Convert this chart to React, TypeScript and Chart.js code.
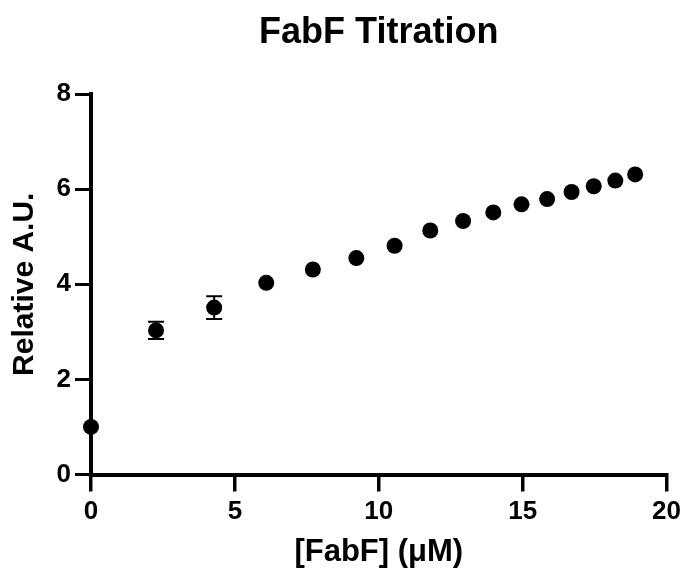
import React, { useEffect, useRef } from "react";
import { Chart, registerables } from "chart.js";

Chart.register(...registerables);

const titleText = "FabF Titration";
const xTitle = "[FabF] (\u03BCM)";
const yTitle = "Relative A.U.";

const concentrations = [0, 2.26, 4.28, 6.09, 7.71, 9.22, 10.55, 11.79, 12.93, 13.98, 14.96, 15.85, 16.7, 17.47, 18.22, 18.91];
const relativeAU = [1.0, 3.03, 3.51, 4.03, 4.31, 4.55, 4.81, 5.13, 5.33, 5.51, 5.68, 5.79, 5.94, 6.06, 6.18, 6.31];
const errors = [0, 0.18, 0.24, 0, 0, 0, 0, 0, 0, 0, 0, 0, 0, 0, 0, 0];

const xTicks = [0, 5, 10, 15, 20];
const yTicks = [0, 2, 4, 6, 8];

const FONT = "'Liberation Sans', Arial, Helvetica, sans-serif";

const errorBarPlugin = {
  id: "errorBars",
  beforeDatasetsDraw(chart: any) {
    const { ctx, scales } = chart;
    const xs = scales.x;
    const ys = scales.y;
    ctx.save();
    ctx.strokeStyle = "#000";
    ctx.lineWidth = 2;
    concentrations.forEach((xv, i) => {
      const e = errors[i];
      if (!e) return;
      const px = xs.getPixelForValue(xv);
      const top = ys.getPixelForValue(relativeAU[i] + e);
      const bot = ys.getPixelForValue(relativeAU[i] - e);
      ctx.beginPath();
      ctx.moveTo(px, top);
      ctx.lineTo(px, bot);
      ctx.moveTo(px - 8, top);
      ctx.lineTo(px + 8, top);
      ctx.moveTo(px - 8, bot);
      ctx.lineTo(px + 8, bot);
      ctx.stroke();
    });
    ctx.restore();
  },
};

const centeredTitlePlugin = {
  id: "centeredTitle",
  afterDraw(chart: any) {
    const { ctx, chartArea } = chart;
    ctx.save();
    ctx.fillStyle = "#000";
    ctx.font = `bold 36px ${FONT}`;
    ctx.textAlign = "center";
    ctx.textBaseline = "alphabetic";
    ctx.fillText(titleText, (chartArea.left + chartArea.right) / 2, 42.5);
    ctx.restore();
  },
};

export default function App() {
  const ref = useRef<HTMLCanvasElement | null>(null);

  useEffect(() => {
    if (!ref.current) return;
    const chart = new Chart(ref.current, {
      type: "scatter",
      data: {
        datasets: [
          {
            label: yTitle,
            data: concentrations.map((x, i) => ({ x, y: relativeAU[i] })),
            backgroundColor: "#000",
            borderColor: "#000",
            borderWidth: 0,
            pointRadius: 8,
            pointHoverRadius: 8,
            clip: false as any,
          },
        ],
      },
      options: {
        animation: false,
        responsive: false,
        devicePixelRatio: 1,
        events: [],
        layout: { padding: { left: 0, right: 19, top: 94, bottom: 0 } },
        plugins: {
          legend: { display: false },
          tooltip: { enabled: false },
          title: { display: false },
        },
        scales: {
          x: {
            type: "linear",
            min: xTicks[0],
            max: xTicks[xTicks.length - 1],
            afterBuildTicks: (s: any) => {
              s.ticks = xTicks.map((v) => ({ value: v }));
            },
            afterFit: (s: any) => {
              s.height = 106.5;
            },
            border: { display: true, color: "#000", width: 4 },
            grid: {
              drawOnChartArea: false,
              drawTicks: true,
              tickLength: 17,
              tickWidth: 3.5,
              lineWidth: 3.5,
              tickColor: "#000",
              color: "#000",
            },
            ticks: {
              color: "#000",
              padding: 5,
              maxRotation: 0,
              font: { family: FONT, size: 26, weight: "bold" },
            },
            title: {
              display: true,
              text: xTitle,
              color: "#000",
              font: { family: FONT, size: 31, weight: "bold" },
              padding: { top: 0, bottom: 10 },
            },
          },
          y: {
            type: "linear",
            min: yTicks[0],
            max: yTicks[yTicks.length - 1],
            afterBuildTicks: (s: any) => {
              s.ticks = yTicks.map((v) => ({ value: v }));
            },
            afterFit: (s: any) => {
              s.width = 91;
            },
            border: { display: true, color: "#000", width: 4 },
            grid: {
              drawOnChartArea: false,
              drawTicks: true,
              tickLength: 16,
              tickWidth: 3,
              lineWidth: 3,
              tickColor: "#000",
              color: "#000",
            },
            ticks: {
              color: "#000",
              padding: 4,
              font: { family: FONT, size: 26, weight: "bold" },
            },
            title: {
              display: true,
              text: yTitle,
              color: "#000",
              font: { family: FONT, size: 30, weight: "bold" },
              padding: { top: 7, bottom: 0 },
            },
          },
        },
      },
      plugins: [errorBarPlugin, centeredTitlePlugin],
    });
    return () => chart.destroy();
  }, []);

  return (
    <div style={{ position: "fixed", left: 0, top: 0, width: 686, height: 581, background: "#fff" }}>
      <canvas ref={ref} width={686} height={581} style={{ display: "block" }} />
    </div>
  );
}
